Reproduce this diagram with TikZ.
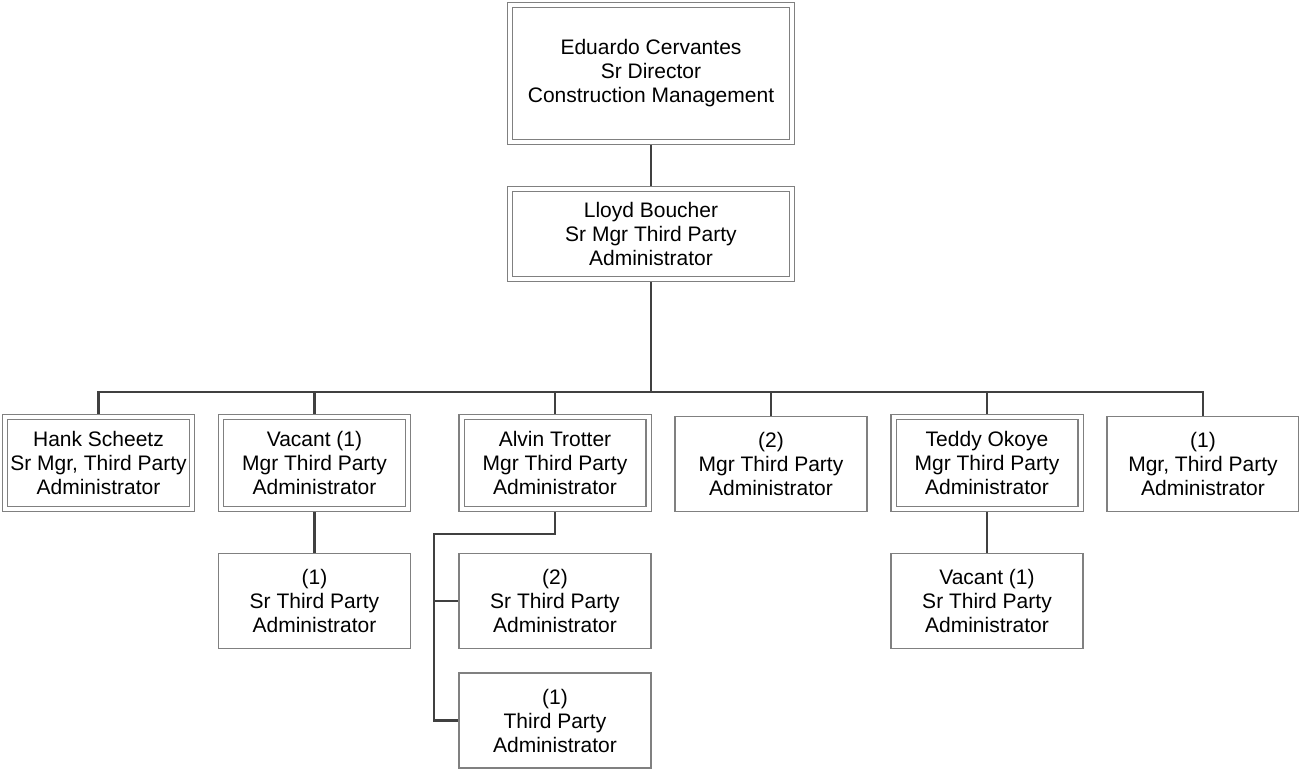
\documentclass[tikz,border=0pt]{standalone}
\usepackage{fontspec}
\setmainfont{Liberation Sans}
\usepackage{tikz}
\usetikzlibrary{positioning,backgrounds,calc}
\definecolor{boxline}{RGB}{128,128,128}
\definecolor{linkline}{RGB}{64,64,64}

\begin{document}
\begin{tikzpicture}[x=1pt, y=-1pt,
    every node/.style={font=\fontsize{21}{24}\selectfont, align=center, inner sep=0pt},
    post/.style={draw=boxline, line width=1.1pt, fill=white,
                 minimum width=192pt, minimum height=95pt},
    namedpost/.style={post, double=white, double distance=4pt,
                 minimum width=187pt, minimum height=92pt},
    link/.style={draw=linkline, line width=2.4pt}]
  \useasboundingbox (0,0) rectangle (1299,770);

  % top of the chart
  \node[namedpost, minimum width=282pt, minimum height=137pt] (director) at (651,73.5)
    {Eduardo Cervantes\\Sr Director\\Construction Management};
  \node[namedpost, minimum width=282pt, minimum height=90pt] (srmgr) at (651,234)
    {Lloyd Boucher\\Sr Mgr Third Party\\Administrator};

  % managers
  \node[namedpost] (hank)      at (98.5,463)  {Hank Scheetz\\Sr Mgr, Third Party\\Administrator};
  \node[namedpost] (vacantmgr) at (314.5,463) {Vacant (1)\\Mgr Third Party\\Administrator};
  \node[namedpost] (alvin)     at (555,463)   {Alvin Trotter\\Mgr Third Party\\Administrator};
  \node[post]      (mgrtwo)    at (771,464)   {(2)\\Mgr Third Party\\Administrator};
  \node[namedpost] (teddy)     at (987,463)   {Teddy Okoye\\Mgr Third Party\\Administrator};
  \node[post]      (mgrone)    at (1203,464)  {(1)\\Mgr, Third Party\\Administrator};

  % staff
  \node[post] (vacantsr) at (314.5,601) {(1)\\Sr Third Party\\Administrator};
  \node[post] (alvinsr)  at (555,601)   {(2)\\Sr Third Party\\Administrator};
  \node[post] (alvintpa) at (555,720.5) {(1)\\Third Party\\Administrator};
  \node[post] (teddysr)  at (987,601)   {Vacant (1)\\Sr Third Party\\Administrator};

  \begin{scope}[on background layer]
    \coordinate (bar) at (651,392);
    \coordinate (rail) at (434,534);
    \draw[link] (director.south) -- (srmgr.north);
    \draw[link] (srmgr.south) -- (bar);
    \draw[link] (hank.north) -- (hank.north |- bar) -- (mgrone.north |- bar) -- (mgrone.north);
    \foreach \n in {vacantmgr,alvin,mgrtwo,teddy}
      \draw[link] (\n.north) -- (\n.north |- bar);
    \draw[link] (vacantmgr.south) -- (vacantsr.north);
    \draw[link] (teddy.south) -- (teddysr.north);
    \draw[link] (alvin.south) |- (rail) -- (rail |- alvintpa.west) -- (alvintpa.west);
    \draw[link] (rail |- alvinsr.west) -- (alvinsr.west);
  \end{scope}
\end{tikzpicture}
\end{document}
